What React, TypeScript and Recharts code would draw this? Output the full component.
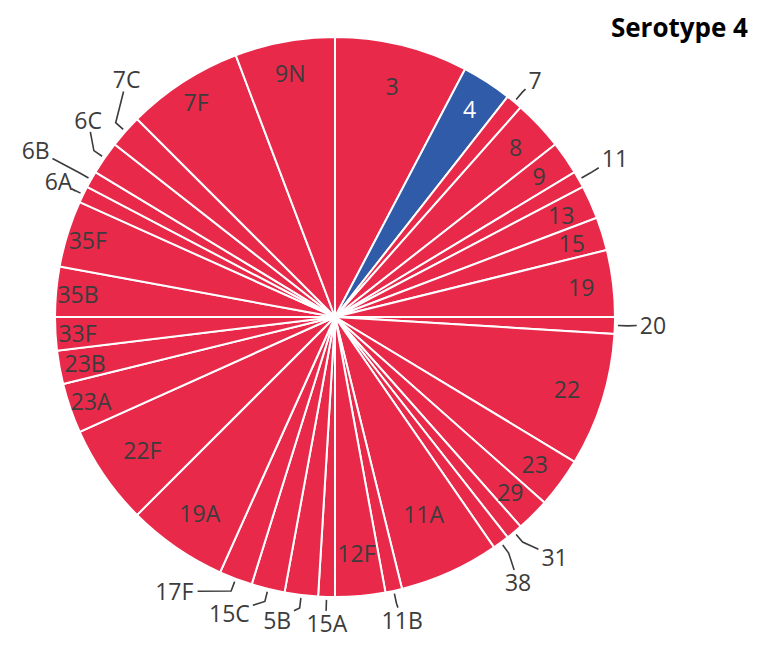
import React from 'react';
import { PieChart, Pie, Cell } from 'recharts';

// ---- data ----
const categories = ['3', '4', '7', '8', '9', '11', '13', '15', '19', '20', '22', '23', '29', '31', '38', '11A', '11B', '12F', '15A', '5B', '15C', '17F', '19A', '22F', '23A', '23B', '33F', '35B', '35F', '6A', '6B', '6C', '7C', '7F', '9N'];
const counts = [8, 3, 1, 3, 2, 1, 2, 2, 4, 1, 8, 3, 2, 1, 1, 6, 1, 3, 1, 2, 2, 2, 6, 6, 3, 2, 2, 3, 4, 1, 1, 2, 2, 7, 6];
const highlightedCategory = '4';
const outsideLabelCategories = ['7', '11', '20', '31', '38', '11B', '15A', '5B', '15C', '17F', '6A', '6B', '6C', '7C'];
const title = 'Serotype 4';

const data = categories.map((name, i) => ({ name, value: counts[i] }));

// ---- layout / style ----
const W = 780;
const H = 647;
const CX = 335;
const CY = 317;
const R = 280;
const RED = '#E8294A';
const BLUE = '#2F5BA8';
const TEXT = '#3C3C3C';
const FONT = "'Open Sans', 'DejaVu Sans', sans-serif";
const FS = 23;

// label layout: [angle offset (deg, clockwise), label radius]
const outsideLayout: Record<string, [number, number]> = {
  '7': [0.4, 310], '11': [-0.2, 322], '20': [-0.3, 318], '31': [-2.7, 325], '38': [1.7, 322],
  '11B': [-0.4, 310], '15A': [-0.2, 306], '5B': [3.9, 308], '15C': [5.8, 314], '17F': [9.6, 318],
  '6A': [0.2, 308], '6B': [-0.2, 343], '6C': [4.0, 316], '7C': [7.2, 316],
};
const insideRadius: Record<string, number> = {
  '11A': 216, '22F': 234, '19A': 238, '12F': 237, '3': 238, '22': 243,
  '7F': 256, '33F': 258, '35B': 258, '23A': 258, '35F': 259, '23B': 254,
};
const DEFAULT_INSIDE_R = 248;

const polar = (cx: number, cy: number, deg: number, r: number): [number, number] => {
  const a = (deg * Math.PI) / 180;
  return [cx + r * Math.sin(a), cy - r * Math.cos(a)];
};

const textWidth = (s: string) =>
  s.split('').reduce((w, ch) => w + (/[0-9]/.test(ch) ? 0.572 : 0.63) * FS, 0);

const renderLabel = (props: any) => {
  const { cx, cy, midAngle, index } = props;
  const name = categories[index];
  const theta = 90 - midAngle; // clockwise from 12 o'clock
  const fill = name === highlightedCategory ? '#FFFFFF' : TEXT;

  if (outsideLabelCategories.includes(name)) {
    const [off, lr] = outsideLayout[name] || [0, R + 32];
    const [lx, ly] = polar(cx, cy, theta + off, lr);
    const [p0x, p0y] = polar(cx, cy, theta, R + 3);
    const [p1x, p1y] = polar(cx, cy, theta, R + 13);
    const hw = textWidth(name) / 2 + 3;
    const hh = 12;
    const dx = p1x - lx;
    const dy = p1y - ly;
    const tx = dx === 0 ? Infinity : hw / Math.abs(dx);
    const ty = dy === 0 ? Infinity : hh / Math.abs(dy);
    const t = Math.min(tx, ty);
    const ex = lx + dx * t;
    const ey = ly + dy * t;
    return (
      <g key={`lbl-${name}`}>
        <polyline
          points={`${p0x},${p0y} ${p1x},${p1y} ${ex},${ey}`}
          fill="none"
          stroke={TEXT}
          strokeWidth={1.6}
        />
        <text
          x={lx}
          y={ly}
          textAnchor="middle"
          dominantBaseline="central"
          fontFamily={FONT}
          fontSize={FS}
          fill={TEXT}
        >
          {name}
        </text>
      </g>
    );
  }

  const r = insideRadius[name] ?? DEFAULT_INSIDE_R;
  const [x, y] = polar(cx, cy, theta, r);
  return (
    <text
      key={`lbl-${name}`}
      x={x}
      y={y}
      textAnchor="middle"
      dominantBaseline="central"
      fontFamily={FONT}
      fontSize={FS}
      fill={fill}
    >
      {name}
    </text>
  );
};

export default function App() {
  return (
    <div style={{ position: 'absolute', left: 0, top: 0, width: W, height: H, background: '#fff' }}>
      <PieChart width={W} height={H} margin={{ top: 0, right: 0, bottom: 0, left: 0 }}>
        <Pie
          data={data}
          dataKey="value"
          nameKey="name"
          cx={CX}
          cy={CY}
          outerRadius={R}
          startAngle={90}
          endAngle={-270}
          stroke="#FFFFFF"
          strokeWidth={2}
          isAnimationActive={false}
          label={renderLabel}
          labelLine={false}
        >
          {data.map((d) => (
            <Cell key={d.name} fill={d.name === highlightedCategory ? BLUE : RED} />
          ))}
        </Pie>
      </PieChart>
      <div
        style={{
          position: 'absolute',
          right: W - 748,
          top: 11,
          fontFamily: FONT,
          fontWeight: 700,
          fontSize: 26,
          lineHeight: '32px',
          color: '#000',
          whiteSpace: 'nowrap',
        }}
      >
        {title}
      </div>
    </div>
  );
}
